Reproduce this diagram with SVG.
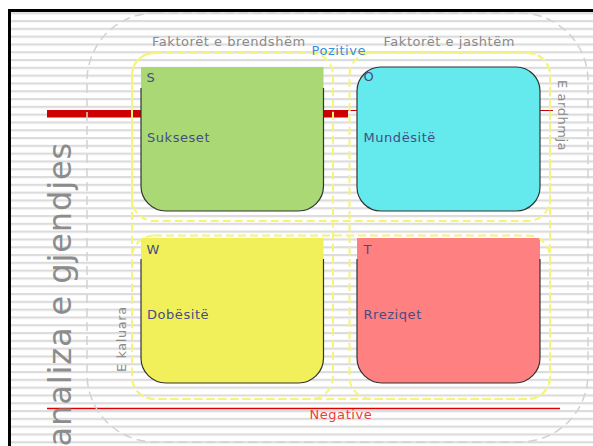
<svg xmlns="http://www.w3.org/2000/svg" width="593" height="446" viewBox="0 0 593 446">
<defs>
<pattern id="stripes" patternUnits="userSpaceOnUse" x="0" y="12.2" width="20" height="7.8">
<rect x="0" y="0" width="20" height="2.2" fill="#dcdcdc"/>
</pattern>
</defs>
<style>
.lbl{font-family:"DejaVu Sans","Liberation Sans",sans-serif;font-size:13px;letter-spacing:0.55px}
.gray{fill:#8a8a8a}
.box-t{fill:#474c84}
.ydash{fill:none;stroke:#f5f47a;stroke-width:2;stroke-dasharray:8 4}
.edge{fill:none;stroke:#333;stroke-width:1.2}
</style>
<rect width="593" height="446" fill="#fff"/>
<rect x="11" y="11" width="582" height="435" fill="url(#stripes)"/>
<path d="M9.5,446 V10.5 H593" fill="none" stroke="#000" stroke-width="3"/>
<g id="connectors">
<rect x="47" y="110" width="301" height="7.5" fill="#cc0000"/>
<line x1="348" y1="110.5" x2="553" y2="110.5" stroke="#cc0000" stroke-width="1.2"/>
<line x1="47" y1="408.5" x2="560" y2="408.5" stroke="#dd0000" stroke-width="1.5"/>
</g>
<g id="frame">
<rect x="87" y="13" width="501" height="429" rx="68" fill="none" stroke="#d2d2d2" stroke-width="1.5" stroke-dasharray="9 5"/>
<rect class="ydash" x="132" y="53" width="201" height="346" rx="22"/>
<rect class="ydash" x="349.5" y="53" width="200.5" height="346" rx="22"/>
<rect class="ydash" x="132" y="53" width="418" height="168" rx="22"/>
<rect class="ydash" x="132" y="235.5" width="418" height="163.5" rx="22"/>
</g>
<g id="labels">
<text class="lbl gray" x="152" y="46">Faktorët e brendshëm</text>
<text class="lbl gray" x="383.5" y="46">Faktorët e jashtëm</text>
<text class="lbl" x="311.5" y="55" fill="#3b8edb">Pozitive</text>
<text class="lbl" x="309.5" y="418.7" fill="#f03a3a">Negative</text>
<text class="lbl gray" transform="translate(557.5,80) rotate(90)">E ardhmja</text>
<text class="lbl gray" transform="translate(125.5,372) rotate(-90)">E kaluara</text>
<text transform="translate(71,446.5) rotate(-90)" font-family="DejaVu Sans, sans-serif" font-size="32" letter-spacing="0.9" fill="#8c8c8c">analiza e gjendjes</text>
</g>
<g id="node-S">
<path d="M141,67 H323.5 V186 A25,25 0 0 1 298.5,211 H166 A25,25 0 0 1 141,186 Z" fill="#a9d875"/>
<path class="edge" d="M141,88 V186 A25,25 0 0 0 166,211 H298.5 A25,25 0 0 0 323.5,186 V88"/>
<text class="lbl box-t" x="146.5" y="81.7">S</text>
<text class="lbl box-t" x="147" y="141.7">Sukseset</text>
</g>
<g id="node-O">
<rect x="357" y="67" width="183" height="144" rx="24" fill="#64eaec" stroke="#333" stroke-width="1.2"/>
<text class="lbl box-t" x="363.5" y="81">O</text>
<text class="lbl box-t" x="363.5" y="141.7">Mundësitë</text>
</g>
<g id="node-W">
<path d="M141,238 H323.5 V358 A25,25 0 0 1 298.5,383 H166 A25,25 0 0 1 141,358 Z" fill="#f2f05a"/>
<path class="edge" d="M141,259 V358 A25,25 0 0 0 166,383 H298.5 A25,25 0 0 0 323.5,358 V259"/>
<text class="lbl box-t" x="146.5" y="254.3">W</text>
<text class="lbl box-t" x="147" y="319.3">Dobësitë</text>
</g>
<g id="node-T">
<path d="M357,238 H537 A3,3 0 0 1 540,241 V358 A25,25 0 0 1 515,383 H382 A25,25 0 0 1 357,358 Z" fill="#ff8080"/>
<path class="edge" d="M357,259 V358 A25,25 0 0 0 382,383 H515 A25,25 0 0 0 540,358 V259"/>
<text class="lbl box-t" x="363.5" y="253.7">T</text>
<text class="lbl box-t" x="363.5" y="319.3">Rreziqet</text>
</g>
</svg>
